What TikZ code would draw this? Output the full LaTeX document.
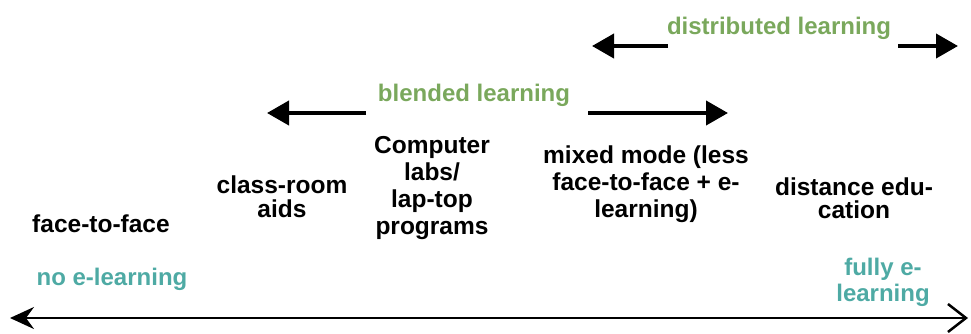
\documentclass[tikz,border=0pt]{standalone}
\usepackage{fontspec}
\setmainfont{Liberation Sans}
\usetikzlibrary{arrows.meta}
\definecolor{lgreen}{RGB}{122,168,92}
\definecolor{lteal}{RGB}{78,170,164}
\begin{document}
\begin{tikzpicture}[x=1pt,y=-1pt,
  txt/.style={font=\fontsize{24.5}{25}\selectfont\bfseries, inner sep=0pt, anchor=base, align=center},
  grn/.style={txt, font=\fontsize{24}{25}\selectfont\bfseries, text=lgreen},
  tea/.style={txt, font=\fontsize{24}{26}\selectfont\bfseries, text=lteal},
  fat/.style={line width=4pt, -{Triangle[length=22pt,width=24pt]}},
  axis/.style={line width=2.5pt, {Stealth[length=24pt,width=22pt,inset=8pt]}-{Straight Barb[length=18pt,width=28pt,line width=2.5pt]}}]
\useasboundingbox (0,0) rectangle (971,333);
% top arrows
\node[grn] (dist) at (779,34) {distributed learning};
\coordinate (dlA) at (668,46);
\coordinate (dlT) at (592,46);
\coordinate (drA) at (898,46);
\coordinate (drT) at (958,46);
\draw[fat] (dlA) -- (dlT);
\draw[fat] (drA) -- (drT);
\node[grn] (blend) at (474,101) {blended learning};
\coordinate (blA) at (366,113);
\coordinate (blT) at (267,113);
\coordinate (brA) at (588,113);
\coordinate (brT) at (728,113);
\draw[fat] (blA) -- (blT);
\draw[fat] (brA) -- (brT);
% categories (anchor = baseline of last line)
\node[txt] (f2f) at (101,232) {face-to-face};
\node[txt,font=\fontsize{24.5}{24}\selectfont\bfseries] (cra) at (282,217) {class-room\\aids};
\node[txt,font=\fontsize{24.5}{27}\selectfont\bfseries] (lab) at (432,234) {Computer\\labs/\\lap-top\\programs};
\node[txt,font=\fontsize{24.5}{27}\selectfont\bfseries] (mix) at (646,217) {mixed mode (less\\face-to-face + e-\\learning)};
\node[txt,font=\fontsize{24.5}{23}\selectfont\bfseries] (dist2) at (854,218) {distance edu-\\cation};
% bottom
\node[tea] (none) at (112,285) {no e-learning};
\node[tea] (full) at (883,301) {fully e-\\learning};
\coordinate (axL) at (10,318);
\coordinate (axR) at (968,318);
\draw[axis] (axL) -- (axR);
\end{tikzpicture}
\end{document}
